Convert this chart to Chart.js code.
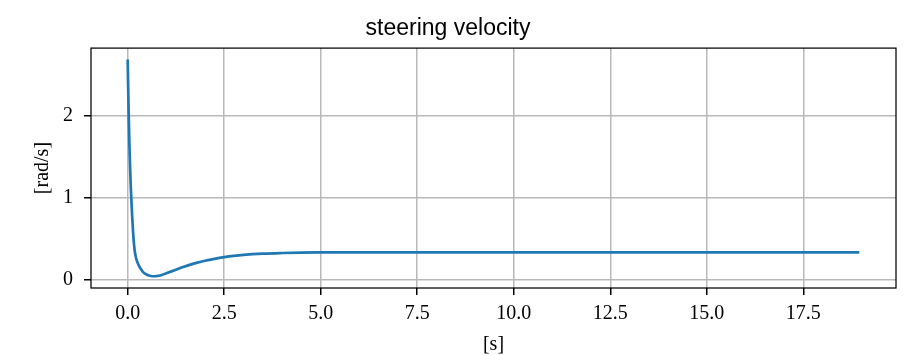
<!DOCTYPE html>
<html>
<head>
<meta charset="utf-8">
<script src="https://cdn.jsdelivr.net/npm/chart.js@4.4.1/dist/chart.umd.min.js"></script>
<style>
html,body{margin:0;padding:0;background:#fff;}
#wrap{width:907px;height:355px;}
</style>
</head>
<body>
<div id="wrap"><canvas id="c" width="907" height="355"></canvas></div>
<script>
// ---- data ----
const chartTitle = "steering velocity";
const xLabel = "[s]";
const yLabel = "[rad/s]";
const times = [0.00,0.01,0.02,0.03,0.04,0.05,0.06,0.08,0.10,0.12,0.14,0.16,0.18,0.20,0.23,0.26,0.30,0.35,0.40,0.45,0.50,0.55,0.60,0.65,0.70,0.80,0.90,1.00,1.20,1.40,1.60,1.80,2.00,2.25,2.50,2.75,3.00,3.50,4.00,4.50,5.00,6.00,8.00,10.0,12.0,14.0,16.0,18.0,18.95];
const velocity = [2.69,2.42,2.17,1.95,1.75,1.57,1.41,1.14,0.93,0.74,0.58,0.45,0.36,0.30,0.24,0.20,0.16,0.12,0.09,0.07,0.057,0.048,0.042,0.039,0.039,0.045,0.058,0.075,0.11,0.145,0.178,0.205,0.228,0.252,0.272,0.288,0.300,0.315,0.323,0.328,0.330,0.332,0.332,0.332,0.332,0.332,0.332,0.332,0.332];
const xTicks = [0,2.5,5.0,7.5,10.0,12.5,15.0,17.5];
const yTicks = [0,1,2];
const xRange = [-0.95, 19.9];
const yRange = [-0.105, 2.83];

const points = times.map((t,i)=>({x:t,y:velocity[i]}));

const frame = {
  id:'frame',
  afterDraw(chart){
    const {ctx, chartArea:a} = chart;
    ctx.save();
    ctx.strokeStyle='#000';
    ctx.lineWidth=1.25;
    ctx.strokeRect(a.left, a.top, a.right-a.left, a.bottom-a.top);
    ctx.restore();
  }
};

const serif = "'Liberation Serif', 'DejaVu Serif', serif";

new Chart(document.getElementById('c'), {
  type:'line',
  data:{datasets:[{
    data:points,
    borderColor:'#1f77b4',
    borderWidth:2.7,
    pointRadius:0,
    fill:false,
    tension:0,
    cubicInterpolationMode:'monotone'
  }]},
  options:{
    responsive:false,
    animation:false,
    devicePixelRatio:1,
    layout:{padding:{left:0,right:11,top:0,bottom:0}},
    plugins:{
      legend:{display:false},
      tooltip:{enabled:false},
      title:{
        display:true,
        text:chartTitle,
        color:'#000',
        font:{family:"'Liberation Sans', Arial, sans-serif", size:23, weight:'normal', lineHeight:1.2},
        padding:{top:15,bottom:5.5}
      }
    },
    scales:{
      x:{
        type:'linear',
        min:xRange[0], max:xRange[1],
        afterBuildTicks(s){ s.ticks = xTicks.map(v=>({value:v})); },
        afterFit(s){ s.height = 67; },
        grid:{color:'#b8b8b8', lineWidth:1.5, tickColor:'#000', tickLength:7, drawTicks:true},
        border:{display:false},
        ticks:{color:'#000', font:{family:serif,size:20}, padding:7, maxRotation:0, autoSkip:false,
          callback:(v)=>Number(v).toFixed(1)},
        title:{display:true, text:xLabel, color:'#000', font:{family:serif,size:20}, padding:{top:0,bottom:-2}}
      },
      y:{
        type:'linear',
        min:yRange[0], max:yRange[1],
        afterBuildTicks(s){ s.ticks = yTicks.map(v=>({value:v})); },
        afterFit(s){ s.width = 91; },
        grid:{color:'#b8b8b8', lineWidth:1.5, tickColor:'#000', tickLength:7, drawTicks:true},
        border:{display:false},
        ticks:{color:'#000', font:{family:serif,size:20}, padding:11, autoSkip:false,
          callback:(v)=>String(v)},
        title:{display:true, text:yLabel, color:'#000', font:{family:serif,size:20}, padding:{top:31,bottom:0}}
      }
    }
  },
  plugins:[frame]
});
</script>
</body>
</html>
